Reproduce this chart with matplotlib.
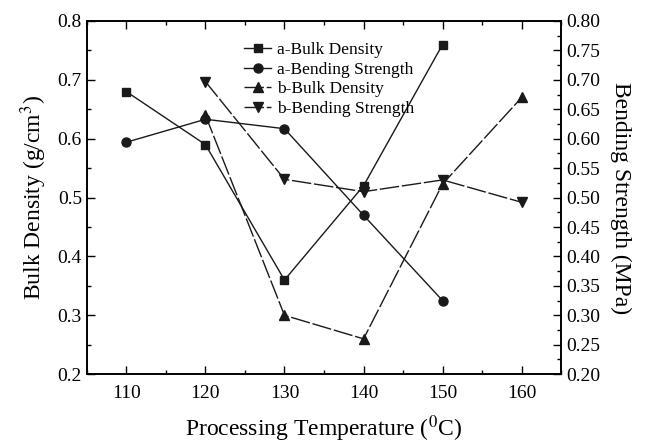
import matplotlib
matplotlib.use("Agg")
import matplotlib.pyplot as plt
from matplotlib.ticker import MultipleLocator

plt.rcParams['font.family'] = ['Liberation Serif', 'DejaVu Serif']
plt.rcParams['mathtext.fontset'] = 'stix'

# dados
temp_a = [110, 120, 130, 140, 150]
temp_b = [120, 130, 140, 150, 160]
a_densidade = [0.68, 0.59, 0.36, 0.52, 0.76]
a_resistencia = [0.594, 0.633, 0.617, 0.47, 0.325]
b_densidade = [0.64, 0.30, 0.26, 0.523, 0.67]
b_resistencia = [0.697, 0.531, 0.51, 0.53, 0.492]

fig = plt.figure(figsize=(6.48, 4.46), dpi=100)
ax = fig.add_axes([0.134, 0.161, 0.732, 0.792])
ax2 = ax.twinx()

cor = '#1a1a1a'
tracejado = (0, (14, 2))
l1, = ax.plot(temp_a, a_densidade, color=cor, lw=1, marker='s', ms=6, label='a-Bulk Density')
l2, = ax2.plot(temp_a, a_resistencia, color=cor, lw=1, marker='o', ms=6.5, label='a-Bending Strength')
l3, = ax.plot(temp_b, b_densidade, color=cor, lw=1, ls=tracejado, marker='^', ms=7, label='b-Bulk Density')
l4, = ax2.plot(temp_b, b_resistencia, color=cor, lw=1, ls=tracejado, marker='v', ms=7, label='b-Bending Strength')

ax.set_xlim(105, 165)
ax.set_ylim(0.2, 0.8)
ax2.set_ylim(0.2, 0.8)
ax.set_xticks([110, 120, 130, 140, 150, 160])
ax.xaxis.set_minor_locator(MultipleLocator(5))
ax.yaxis.set_major_locator(MultipleLocator(0.1))
ax.yaxis.set_minor_locator(MultipleLocator(0.05))
ax2.yaxis.set_major_locator(MultipleLocator(0.05))
ax2.yaxis.set_minor_locator(MultipleLocator(0.025))
ax2.set_yticklabels([f"{v:.2f}" for v in ax2.get_yticks()])

ax.tick_params(which='both', direction='in', top=True, labelsize=14, width=1)
ax.tick_params(which='major', length=6)
ax.tick_params(which='minor', length=3)
ax2.tick_params(which='both', direction='in', labelsize=14, width=1)
ax2.tick_params(which='major', length=6)
ax2.tick_params(which='minor', length=3)
ax.tick_params(axis='x', pad=8)

for a in (ax, ax2):
    for s in a.spines.values():
        s.set_linewidth(1.2)

ax.set_xlabel(r'Processing Temperature ($^0$C)', fontsize=17, labelpad=8)
ax.set_ylabel(r'Bulk Density (g/cm$^3$)', fontsize=17, labelpad=6)
ax2.set_ylabel('Bending Strength (MPa)', fontsize=17, rotation=-90, labelpad=22)

ax.legend(handles=[l1, l2, l3, l4], loc='upper center', bbox_to_anchor=(0.51, 0.985),
          frameon=False, fontsize=12.5, handlelength=1.6, handletextpad=0.3,
          labelspacing=0.2)

fig.savefig('out.png', dpi=100)
